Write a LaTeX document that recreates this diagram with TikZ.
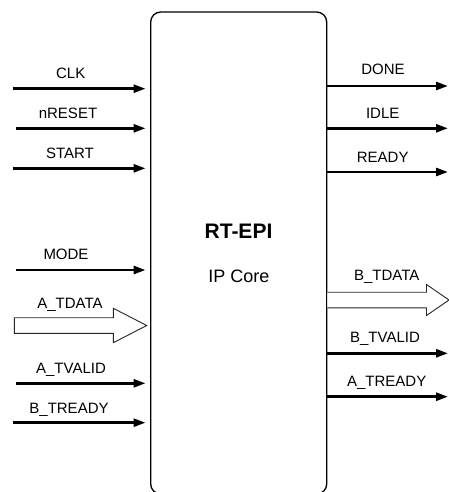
\documentclass[tikz,border=0pt]{standalone}
\usepackage{fontspec}
\setmainfont{Liberation Sans}
\usetikzlibrary{arrows.meta}
\tikzset{
  corebox/.style={draw=black, line width=1.3pt, rounded corners=10pt, fill=white,
    minimum width=176pt, minimum height=482pt, inner sep=0pt},
  sig/.style={line width=2.6pt, -{Triangle[length=12pt,width=8pt]}},
  bigarrow/.style={draw=black!85, line width=0.9pt, fill=white, line join=miter},
  lbl/.style={anchor=base, inner sep=0pt, font=\fontsize{15}{18}\selectfont},
}
\begin{document}
\begin{tikzpicture}[x=1pt,y=-1pt]
\useasboundingbox (0,0) rectangle (448,492);
\node[corebox] (core) at (238.7,253) {};
\node[lbl, font=\fontsize{21}{24}\selectfont\bfseries] (title) at (238.5,238) {RT-EPI};
\node[lbl, font=\fontsize{18}{22}\selectfont] (sub) at (239,282) {IP Core};

% left thin inputs
\coordinate (clk) at (13,88.7);
\coordinate (rst) at (16,128.3);
\coordinate (start) at (13,168.3);
\coordinate (mode) at (16,270);
\coordinate (atv) at (16,383.3);
\coordinate (btr) at (13,422.7);
\foreach \c in {clk,rst,start,mode,atv,btr}
  \draw[sig, shorten >=4.5pt] (\c) -- (\c -| core.west);

\node[lbl] (lclk) at (70.7,78.2) {CLK};
\node[lbl] (lrst) at (68,118.2) {nRESET};
\node[lbl] (lstart) at (70,158.7) {START};
\node[lbl] (lmode) at (66,259.7) {MODE};
\node[lbl] (latd) at (70,308.6) {A\_TDATA};
\node[lbl] (latv) at (71,373) {A\_TVALID};
\node[lbl] (lbtr) at (69,413) {B\_TREADY};

% A_TDATA wide arrow
\coordinate (atd) at (14.3,325.5);
\coordinate (atdtip) at (146.7,325.5);
\draw[bigarrow] (atd) ++(0,-7.8) -- ++(99,0) -- ++(0,-9.4) -- (atdtip)
  -- ++(-33.4,17.2) -- ++(0,-9.4) -- ++(-99,0) -- cycle;

% right thin outputs
\coordinate (done) at (448,86);
\coordinate (idle) at (448,128.3);
\coordinate (ready) at (448,172);
\coordinate (btv) at (448,353.3);
\coordinate (atr) at (448,396.7);
\foreach \c in {done,idle,ready,btv,atr}
  \draw[sig] (\c -| core.east) -- (\c);

\node[lbl] (ldone) at (383,75) {DONE};
\node[lbl] (lidle) at (382.7,118.3) {IDLE};
\node[lbl] (lready) at (382.7,162.3) {READY};
\node[lbl] (lbtd) at (386.7,280.8) {B\_TDATA};
\node[lbl] (lbtv) at (385,342.7) {B\_TVALID};
\node[lbl] (latr) at (386.7,386) {A\_TREADY};

% B_TDATA wide arrow
\coordinate (btd) at (core.east |- 0,300);
\coordinate (btdtip) at (449,300);
\draw[bigarrow] (btd) ++(0,-7.8) -- (426.5,292.2) -- (426.5,284.5) -- (btdtip)
  -- (426.5,315.5) -- (426.5,307.8) -- (core.east |- 0,307.8);
\end{tikzpicture}
\end{document}
